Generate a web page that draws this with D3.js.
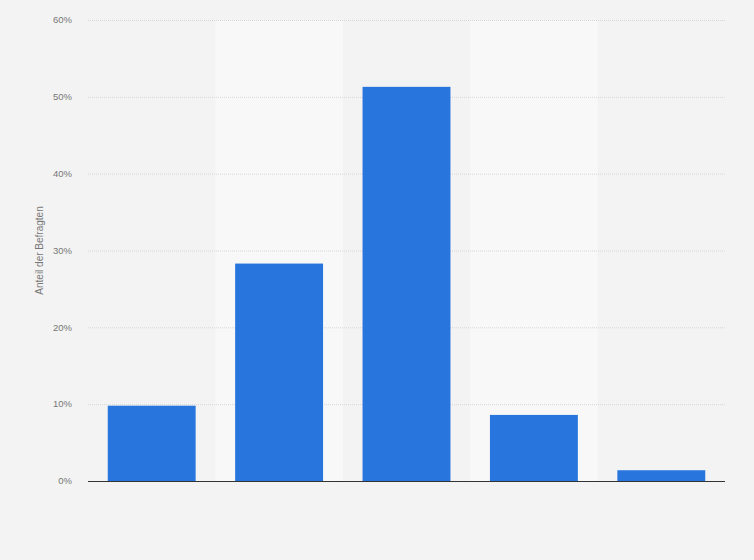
<!DOCTYPE html>
<html>
<head>
<meta charset="utf-8">
<script src="https://cdn.jsdelivr.net/npm/d3@7"></script>
<style>
  html, body { margin: 0; padding: 0; background: #f3f3f3; }
  svg { display: block; font-family: "Liberation Sans", Arial, sans-serif; }
</style>
</head>
<body>
<svg id="chart" width="754" height="560"></svg>
<script>
// bar categories (no labels shown on the chart)
var categories = ['A', 'B', 'C', 'D', 'E'];
var shares = [9.8, 28.3, 51.3, 8.6, 1.4];
var yTicks = [0, 10, 20, 30, 40, 50, 60];

var svg = d3.select('#chart');
var m = { top: 20, right: 29, bottom: 79, left: 88 };
var W = 754, H = 560;
var iw = W - m.left - m.right;
var ih = H - m.top - m.bottom;

svg.append('rect').attr('width', W).attr('height', H).attr('fill', '#f3f3f3');

var g = svg.append('g').attr('transform', 'translate(' + m.left + ',' + m.top + ')');

var x = d3.scaleBand().domain(categories).range([0, iw]).paddingInner(0.31).paddingOuter(0.155);
var band = d3.scaleBand().domain(categories).range([0, iw]);
var y = d3.scaleLinear().domain([0, 60]).range([ih, 0]);

// alternating lighter columns
g.selectAll('rect.band')
  .data(categories.filter(function (d, i) { return i % 2 === 1; }))
  .enter().append('rect')
  .attr('class', 'band')
  .attr('x', function (d) { return band(d); })
  .attr('y', 0)
  .attr('width', band.bandwidth())
  .attr('height', ih)
  .attr('fill', '#f8f8f8');

// grid
g.selectAll('line.grid')
  .data(yTicks.filter(function (d) { return d > 0; }))
  .enter().append('line')
  .attr('class', 'grid')
  .attr('x1', 0).attr('x2', iw)
  .attr('y1', function (d) { return y(d) + 0.5; })
  .attr('y2', function (d) { return y(d) + 0.5; })
  .attr('stroke', '#d6d6d6')
  .attr('stroke-dasharray', '1,1');

// tick labels
g.selectAll('text.ytick')
  .data(yTicks)
  .enter().append('text')
  .attr('class', 'ytick')
  .attr('x', -16)
  .attr('y', function (d) { return y(d); })
  .attr('dy', '0.35em')
  .attr('text-anchor', 'end')
  .attr('font-size', 9.5)
  .attr('fill', '#777')
  .text(function (d) { return d + '%'; });

// bars
g.selectAll('rect.bar')
  .data(shares)
  .enter().append('rect')
  .attr('class', 'bar')
  .attr('x', function (d, i) { return x(categories[i]); })
  .attr('y', function (d) { return y(d); })
  .attr('width', x.bandwidth())
  .attr('height', function (d) { return ih - y(d); })
  .attr('fill', '#2876dd');

// baseline
g.append('line')
  .attr('x1', 0).attr('x2', iw)
  .attr('y1', ih + 0.5).attr('y2', ih + 0.5)
  .attr('stroke', '#333')
  .attr('stroke-width', 1);

// y label
svg.append('text')
  .attr('transform', 'translate(43,' + (m.top + ih / 2) + ') rotate(-90)')
  .attr('text-anchor', 'middle')
  .attr('font-size', 10)
  .attr('fill', '#777')
  .text('Anteil der Befragten');
</script>
</body>
</html>
